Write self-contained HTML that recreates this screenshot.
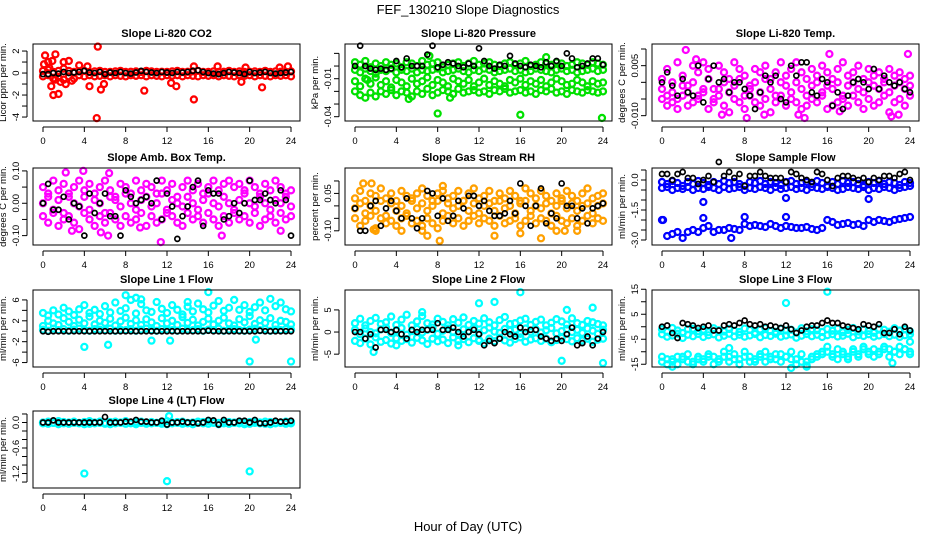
<!DOCTYPE html>
<html><head><meta charset="utf-8"><style>
body{margin:0;background:#fff;}
svg{display:block;font-family:"Liberation Sans",sans-serif;}
.t{font-size:11px;font-weight:bold;}
.tk{font-size:9.5px;}
</style></head><body>
<svg id="c" width="936" height="540" viewBox="0 0 936 540">
<text x="468" y="14" text-anchor="middle" font-size="13">FEF_130210  Slope Diagnostics</text>
<text x="468" y="531" text-anchor="middle" font-size="13">Hour of Day (UTC)</text>
</svg>
<script>
const hours=[0,0.5,1,1.5,2,2.5,3,3.5,4,4.5,5,5.5,6,6.5,7,7.5,8,8.5,9,9.5,10,10.5,11,11.5,12,12.5,13,13.5,14,14.5,15,15.5,16,16.5,17,17.5,18,18.5,19,19.5,20,20.5,21,21.5,22,22.5,23,23.5,24];
const xTicks=[0,4,8,12,16,20,24];
// P1 CO2
const co2A=[0.2,0.3,0.1,0.2,0.4,0.2,0.1,0.15,0.2,0.1,0.15,0.2,0.1,0.1,0.15,0.2,0.1,0.12,0.15,0.1,0.2,0.15,0.1,0.12,0.1,0.15,0.2,0.1,0.12,0.15,0.2,0.1,0.1,0.15,0.1,0.12,0.2,0.1,0.15,0.1,0.12,0.15,0.1,0.2,0.1,0.15,0.12,0.1,0.15];
const co2B=[-0.3,-0.2,-0.5,-0.4,-0.6,-0.3,-0.5,-0.2,-0.3,-0.2,-0.3,-0.25,-0.2,-0.3,-0.2,-0.25,-0.3,-0.2,-0.25,-0.2,-0.3,-0.2,-0.25,-0.3,-0.2,-0.25,-0.2,-0.3,-0.2,-0.25,-0.3,-0.2,-0.25,-0.2,-0.3,-0.2,-0.25,-0.3,-0.2,-0.25,-0.2,-0.3,-0.2,-0.25,-0.3,-0.2,-0.25,-0.2,-0.3];
const co2OutH=[0.2,0.1,0.5,0.9,1.2,1.0,1.5,0.8,2.0,2.5,2.2,3.5,4.3,4.5,5.3,5.2,5.6,5.9,9.8,12.4,12.9,14.6,14.6,16.9,19.6,19.2,21.2,22.9,23.7,1.7,1.2,2.8,0.6];
const co2OutV=[1.6,0.8,1.0,1.1,1.7,-2.0,-1.9,-1.2,1.0,1.1,-1.0,0.7,0.6,-1.2,2.4,-4.1,-1.5,-1.0,-1.6,-0.9,-1.2,-2.4,0.6,0.6,0.5,-0.8,-1.3,0.5,0.6,-0.8,-0.6,-0.7,0.5];
const co2K=[-0.1,-0.1,0,-0.05,0.1,0,0.05,0.1,0.2,0.05,0,0.1,-0.1,0.05,0,0.1,0,-0.05,0.05,0.2,0.1,0.05,0,0.1,0.05,0,0.1,0.05,0.1,0.2,0.25,0.1,0,-0.05,-0.1,0,0.1,0.05,0,-0.1,0.1,0,0.05,0.1,0,-0.05,0,0.05,0.1];
// P2 Pressure
const prA=[0.003,0.001,0.004,-0.001,0.002,0.0,0.003,0.001,0.002,-0.001,0.003,0.002,0.0,0.004,0.001,0.002,0.003,-0.001,0.001,0.002,0.003,0.0,0.002,0.004,0.001,0.002,0.003,0.001,0.0,0.002,0.003,0.001,0.002,0.004,0.0,0.001,0.003,0.002,0.001,0.003,0.002,0.0,0.001,0.003,0.002,0.001,0.003,0.002,0.001];
const prB=[-0.003,-0.005,-0.002,-0.004,-0.006,-0.003,-0.004,-0.002,-0.005,-0.003,-0.004,-0.002,-0.005,-0.003,-0.004,-0.003,-0.002,-0.005,-0.004,-0.003,-0.002,-0.004,-0.005,-0.003,-0.004,-0.002,-0.003,-0.005,-0.004,-0.003,-0.002,-0.004,-0.003,-0.005,-0.004,-0.002,-0.003,-0.004,-0.005,-0.003,-0.002,-0.004,-0.003,-0.005,-0.004,-0.003,-0.002,-0.004,-0.003];
const prC=[-0.02,-0.023,-0.025,-0.021,-0.024,-0.02,-0.022,-0.019,-0.023,-0.02,-0.021,-0.024,-0.02,-0.022,-0.018,-0.023,-0.021,-0.019,-0.02,-0.022,-0.018,-0.021,-0.02,-0.019,-0.021,-0.02,-0.022,-0.019,-0.02,-0.018,-0.021,-0.02,-0.019,-0.021,-0.02,-0.022,-0.019,-0.02,-0.018,-0.021,-0.02,-0.022,-0.019,-0.02,-0.021,-0.019,-0.02,-0.021,-0.02];
const prD=[-0.012,-0.016,-0.01,-0.014,-0.009,-0.015,-0.012,-0.017,-0.011,-0.013,-0.016,-0.01,-0.014,-0.012,-0.009,-0.015,-0.011,-0.013,-0.016,-0.01,-0.012,-0.014,-0.011,-0.016,-0.013,-0.01,-0.015,-0.012,-0.014,-0.016,-0.011,-0.013,-0.01,-0.015,-0.012,-0.014,-0.011,-0.016,-0.013,-0.01,-0.012,-0.015,-0.014,-0.011,-0.013,-0.016,-0.012,-0.014,-0.013];
const prOutH=[8,16,23.9,5.2,9.2,7.2,18.5,1.2];
const prOutV=[-0.0375,-0.0385,-0.041,-0.026,-0.025,0.008,0.007,-0.011];
const prK=[0,0.016,0.0,-0.002,-0.003,-0.002,-0.003,-0.002,0.004,-0.001,0.006,0.0,0.0,0.0,0.009,0.016,-0.001,0.001,0.003,0.002,0.0,-0.001,0.002,0.0,0.014,0.004,0.0,-0.002,0.001,0.0,0.008,0.002,0.0,-0.001,0.001,0.0,-0.001,0.003,0.0,0.004,0.0,0.010,0.006,-0.001,0.0,0.002,0.006,0.006,0.001];
// P3 Li-820 Temp
const tpA=[0.001,0.004,-0.003,0.006,0.002,-0.001,0.005,0.003,0.006,0.004,-0.002,0.005,0.003,0.001,0.006,0.004,0.002,-0.001,0.004,0.003,0.005,0.001,0.003,0.006,0.002,0.004,0.006,0.003,0.001,0.004,0.002,0.005,0.003,0.001,0.004,0.006,0.002,0.003,0.005,0.001,0.004,0.002,0.003,0.001,0.004,0.002,0.003,0.001,0.002];
const tpB=[-0.002,-0.004,0.0,-0.005,-0.001,-0.003,0.0,-0.004,-0.002,0.001,-0.005,-0.002,0.0,-0.003,-0.001,0.001,-0.004,-0.002,0.0,-0.003,0.001,-0.002,-0.004,0.0,-0.001,-0.003,0.0,-0.002,-0.004,-0.001,0.0,-0.003,-0.001,-0.002,0.0,-0.004,-0.001,0.0,-0.002,-0.003,0.0,-0.001,-0.002,0.0,-0.003,-0.001,0.0,-0.002,-0.001];
const tpC=[-0.005,-0.007,-0.006,-0.008,-0.004,-0.007,-0.006,-0.005,-0.003,-0.008,-0.006,-0.004,-0.007,-0.009,-0.005,-0.006,-0.008,-0.004,-0.006,-0.007,-0.005,-0.009,-0.006,-0.004,-0.007,-0.005,-0.006,-0.008,-0.007,-0.005,-0.006,-0.004,-0.008,-0.007,-0.006,-0.005,-0.007,-0.004,-0.006,-0.008,-0.005,-0.007,-0.006,-0.004,-0.009,-0.006,-0.005,-0.007,-0.004];
const tpOutH=[2.3,5.8,8.2,9.9,13.2,13.8,17.2,22.2,22.9,23.8,3.3,16.2];
const tpOutV=[0.0097,-0.0097,-0.0107,-0.0097,-0.0097,-0.0107,-0.0087,-0.0102,-0.0097,0.0085,0.0069,0.0085];
const tpK=[0,0.003,-0.001,-0.004,0.001,-0.003,-0.004,0.005,-0.006,0.001,0.005,0.0,0.001,-0.003,0.0,0.0,-0.002,-0.004,-0.008,-0.003,0.002,0.0,0.002,-0.005,-0.006,0.005,0.002,0.006,0.006,-0.003,-0.004,0.001,0.0,-0.007,-0.003,-0.008,-0.004,0.0,0.001,0.0,-0.002,0.004,-0.002,0.002,0.0,-0.001,0.0,-0.002,-0.003];
// P4 Amb Box Temp
const abA=[0.05,0.03,0.07,0.04,0.06,0.02,0.05,0.07,0.04,0.06,0.03,0.05,0.07,0.04,0.02,0.06,0.05,0.03,0.07,0.04,0.06,0.05,0.03,0.07,0.04,0.06,0.02,0.05,0.07,0.04,0.06,0.03,0.05,0.07,0.04,0.06,0.07,0.05,0.06,0.04,0.07,0.05,0.03,0.06,0.04,0.07,0.05,0.03,0.04];
const abB=[0.0,0.02,-0.02,0.01,-0.03,0.03,0.0,-0.01,0.02,-0.02,0.01,0.0,-0.03,0.02,0.01,-0.01,0.03,0.0,-0.02,0.01,0.02,-0.01,0.0,0.03,-0.02,0.01,0.0,-0.01,0.02,0.0,-0.02,0.01,0.03,0.0,-0.01,0.02,0.0,-0.02,0.01,0.03,0.0,-0.01,0.02,0.0,-0.02,0.01,0.0,0.02,-0.01];
const abC=[-0.04,-0.06,-0.03,-0.07,-0.05,-0.04,-0.06,-0.08,-0.03,-0.05,-0.07,-0.04,-0.06,-0.03,-0.05,-0.07,-0.04,-0.06,-0.05,-0.03,-0.07,-0.04,-0.06,-0.05,-0.03,-0.04,-0.06,-0.07,-0.03,-0.05,-0.04,-0.06,-0.03,-0.05,-0.07,-0.04,-0.06,-0.03,-0.05,-0.04,-0.06,-0.03,-0.07,-0.05,-0.04,-0.06,-0.03,-0.05,-0.04];
const abOutH=[2.2,3.9,6.4,5.6,6.3,11.4,17.3,9.4,2.8,23.0];
const abOutV=[0.095,0.1,0.093,-0.09,-0.1,-0.12,-0.1,-0.075,-0.085,-0.085];
const abK=[0.0,0.06,-0.02,-0.02,0.02,-0.05,0.0,-0.01,-0.1,0.03,-0.03,0.0,0.03,-0.04,-0.04,-0.1,0.04,0.02,0.0,0.01,0.02,0.0,0.07,-0.05,0.03,-0.01,-0.11,-0.04,-0.01,0.05,0.07,-0.07,0.04,0.03,0.03,-0.05,-0.04,0.0,-0.03,0.0,0.07,0.01,0.01,0.03,0.01,0.0,0.04,0.01,-0.1];
// P5 Gas Stream RH
const rhA=[0.03,0.06,0.02,0.05,0.04,0.07,0.03,0.05,0.02,0.06,0.04,0.03,0.05,0.07,0.04,0.02,0.05,0.06,0.03,0.04,0.06,0.02,0.05,0.07,0.03,0.04,0.06,0.02,0.05,0.03,0.06,0.04,0.02,0.07,0.05,0.03,0.06,0.04,0.02,0.05,0.03,0.06,0.04,0.02,0.05,0.07,0.03,0.04,0.05];
const rhB=[-0.01,0.01,-0.03,0.0,-0.02,0.02,-0.04,0.01,-0.02,0.0,-0.03,0.02,-0.01,0.01,-0.02,0.0,0.02,-0.03,0.01,-0.01,0.0,0.02,-0.02,0.01,-0.03,0.0,0.01,-0.02,0.02,-0.01,0.0,-0.03,0.01,0.02,-0.02,0.0,-0.01,0.01,-0.03,0.0,0.02,-0.01,0.01,-0.02,0.0,0.01,-0.03,0.0,0.01];
const rhC=[-0.05,-0.08,-0.06,-0.04,-0.09,-0.05,-0.07,-0.06,-0.08,-0.05,-0.04,-0.07,-0.06,-0.08,-0.05,-0.07,-0.09,-0.06,-0.04,-0.07,-0.05,-0.08,-0.06,-0.04,-0.07,-0.05,-0.06,-0.08,-0.04,-0.07,-0.06,-0.05,-0.08,-0.06,-0.04,-0.07,-0.05,-0.06,-0.08,-0.04,-0.06,-0.07,-0.05,-0.08,-0.06,-0.04,-0.07,-0.05,-0.06];
const rhOutH=[0.8,1.6,2.0,6.5,7.0,8.2,8.5,13.5,16.0,18.0,19.5,20.3,21.5,1.8,4.5];
const rhOutV=[0.09,0.09,-0.1,-0.1,-0.12,-0.14,0.08,-0.12,-0.11,-0.13,-0.1,-0.1,-0.1,-0.095,-0.1];
const rhK=[-0.01,-0.1,-0.1,0.0,0.02,-0.08,-0.01,0.02,-0.02,-0.05,0.03,-0.05,-0.09,-0.05,0.06,0.05,-0.04,0.03,-0.06,-0.04,0.02,-0.01,0.04,0.04,0.0,0.02,-0.02,-0.04,-0.04,-0.03,0.02,-0.03,0.09,0.0,-0.08,0.0,0.07,-0.07,-0.03,-0.05,0.09,0.0,0.0,-0.05,-0.01,-0.07,-0.01,0.0,0.01];
// P6 Sample Flow
const sfA=[-0.1,-0.2,-0.05,-0.15,-0.3,-0.1,-0.2,-0.05,-0.15,-0.25,-0.1,-0.2,-0.05,-0.15,-0.1,-0.2,-0.3,-0.1,-0.15,-0.05,-0.2,-0.1,-0.15,-0.25,-0.1,-0.05,-0.2,-0.15,-0.1,-0.2,-0.05,-0.15,-0.3,-0.1,-0.2,-0.05,-0.15,-0.1,-0.2,-0.25,-0.1,-0.15,-0.05,-0.2,-0.1,-0.15,-0.25,-0.1,-0.15];
const sfB=[-0.4,-0.35,-0.5,-0.4,-0.45,-0.35,-0.5,-0.4,-0.45,-0.35,-0.4,-0.5,-0.35,-0.45,-0.4,-0.35,-0.5,-0.4,-0.45,-0.35,-0.4,-0.5,-0.35,-0.45,-0.4,-0.35,-0.45,-0.4,-0.5,-0.35,-0.4,-0.45,-0.35,-0.4,-0.5,-0.45,-0.35,-0.4,-0.45,-0.35,-0.5,-0.4,-0.45,-0.35,-0.4,-0.5,-0.4,-0.35,-0.3];
const sfC=[-2.0,-2.8,-2.7,-2.6,-2.9,-2.6,-2.5,-2.6,-2.4,-2.3,-2.6,-2.5,-2.5,-2.4,-2.45,-2.5,-2.2,-2.3,-2.25,-2.3,-2.35,-2.2,-2.3,-2.4,-2.3,-2.35,-2.4,-2.4,-2.35,-2.45,-2.5,-2.4,-2.0,-2.1,-2.25,-2.2,-2.15,-2.25,-2.2,-2.3,-2.0,-2.1,-2.0,-2.05,-2.1,-2.0,-1.95,-1.9,-1.85];
const sfOutH=[4.0,12.0,20.0,4.0,8.0,12.0,0.1,6.7];
const sfOutV=[-1.1,-0.9,-0.95,-1.9,-1.85,-1.85,-2.0,-2.9];
const sfK=[0.3,0.3,0.0,0.3,0.4,0.1,0.1,-0.2,0.0,0.2,-0.1,0.9,0.2,0.4,0.1,0.3,-0.3,0.2,0.2,0.4,0.2,0.1,0.1,0.1,-0.1,0.4,0.3,0.1,0.0,-0.1,0.4,0.3,0.0,-0.3,0.1,0.2,0.2,0.1,0.0,0.1,-0.1,0.1,0.0,0.2,0.2,0.1,0.3,0.4,0.0];
// P7 Line 1
const l1A=[0.3,0.1,0.5,0.2,0.4,0.1,0.3,0.5,0.2,0.1,0.4,0.3,0.2,0.5,0.1,0.3,0.2,0.4,0.1,0.3,0.5,0.2,0.1,0.4,0.3,0.2,0.1,0.5,0.3,0.2,0.4,0.1,0.3,0.2,0.5,0.1,0.3,0.4,0.2,0.1,0.3,0.5,0.2,0.4,0.1,0.3,0.2,0.4,0.3];
const l1B=[1.0,2.0,1.5,1.2,2.5,1.8,1.0,2.2,1.5,2.8,1.3,2.0,1.6,2.4,1.1,1.9,2.6,1.4,2.1,1.2,2.3,1.7,1.0,2.5,1.5,2.0,1.2,2.7,1.6,2.2,1.1,1.8,2.4,1.3,2.0,2.6,1.5,1.1,2.3,1.7,2.9,1.4,2.1,1.6,2.5,1.2,2.0,1.8,1.3];
const l1C=[3.5,3.0,4.0,3.2,4.5,3.8,3.1,4.2,5.0,3.5,4.1,3.3,4.8,3.6,5.5,3.9,4.4,6.0,3.4,5.2,4.0,3.7,5.6,4.3,3.5,5.0,4.1,3.2,4.7,3.8,5.3,4.2,3.6,4.9,5.8,3.9,4.5,6.0,4.1,5.0,3.7,4.6,5.5,4.0,6.2,4.8,5.5,4.2,3.8];
const l1OutH=[4.0,6.3,8.0,9.0,9.5,14.0,16.0,20.0,24.0,10.5,12.3,20.6];
const l1OutV=[-3.0,-2.6,6.9,6.4,6.1,5.6,7.5,-5.8,-5.8,-1.8,-1.8,-1.6];
const l1K=[0,-0.1,0,0,0,0,0,0,0,0,0,0,0,0,0,0,0,0,0,0,0,0,0,0,0,0,0,0,0,0,0,0,0.1,0,0,0,0,0,0,0,0,0,0.1,0,0,0,0,0,0];
// P8 Line 2
const l2A=[2.0,3.0,1.5,2.5,3.2,1.8,2.2,3.5,1.6,2.8,3.9,1.5,2.4,3.6,2.0,1.7,3.0,2.3,1.5,2.9,2.1,3.3,1.6,2.5,1.9,3.1,2.2,1.5,2.7,3.4,1.8,2.0,2.6,3.0,1.6,2.3,2.8,1.5,2.1,2.9,2.4,1.7,3.1,2.0,1.6,2.5,2.2,1.8,1.5];
const l2B=[0.5,-0.5,0.8,0.0,-0.3,0.6,1.0,-0.2,0.4,0.9,-0.6,0.2,0.7,-0.1,0.5,1.0,-0.4,0.3,0.8,0.0,-0.5,0.6,0.2,0.9,-0.3,0.4,1.0,0.1,-0.2,0.7,0.3,0.5,-0.4,0.8,0.0,0.6,-0.1,0.4,0.9,-0.3,0.2,0.7,0.0,0.5,-0.2,0.8,0.3,-0.4,0.5];
const l2C=[-2.0,-2.5,-1.5,-2.8,-1.2,-2.2,-1.8,-2.6,-1.4,-2.0,-1.6,-2.4,-1.3,-1.9,-2.7,-1.5,-2.1,-1.7,-2.5,-1.2,-2.0,-1.6,-2.3,-1.4,-1.8,-2.6,-1.5,-2.1,-1.3,-1.9,-2.4,-1.6,-1.2,-2.2,-1.7,-1.4,-2.0,-1.5,-2.3,-1.8,-1.3,-1.6,-2.1,-1.4,-1.9,-1.5,-2.2,-1.7,-1.5];
const l2OutH=[1.8,4.0,6.5,12.0,13.5,16.0,20.0,24.0,23.0,10.0,12.0,20.5];
const l2OutV=[-4.5,-3.0,4.5,6.5,6.8,9.0,-6.5,-7.0,5.5,-3.0,-2.0,5.0];
const l2K=[0,0,-1.5,-0.5,-3.5,0.5,0.5,0.0,0.5,-0.5,-1.5,0.5,0.0,0.5,0.5,0.5,2.0,0.5,0.5,1.0,0.0,-1.0,0.0,0.5,-0.5,-3.0,-2.0,-2.5,-1.5,0.0,-0.5,-1.0,1.0,0.0,0.5,0.5,-1.0,-1.5,-2.0,-1.5,-2.0,-0.5,1.0,-3.0,-2.5,-1.0,-3.0,-1.5,0.0];
// P9 Line 3
const l3A=[-1.0,-2.0,-0.5,-1.5,-2.5,-1.0,-0.8,-1.8,-1.2,-2.2,-0.6,-1.4,-1.9,-0.9,-1.6,-2.1,-0.7,-1.3,-2.4,-1.1,-0.5,-1.7,-2.0,-0.8,-1.5,-1.2,-2.3,-0.6,-1.8,-1.0,-1.4,-2.1,-0.9,-1.6,-0.7,-2.2,-1.3,-0.5,-1.9,-1.1,-1.7,-2.4,-0.8,-1.2,-2.0,-0.6,-1.5,-1.0,-1.8];
const l3B=[-3.0,-4.0,-3.5,-2.8,-4.5,-3.2,-3.8,-2.9,-4.1,-3.4,-3.0,-4.3,-3.6,-2.8,-3.9,-3.2,-4.0,-3.5,-2.9,-4.2,-3.3,-3.7,-2.8,-4.0,-3.5,-3.1,-4.4,-3.6,-2.9,-3.8,-3.2,-4.1,-3.4,-3.0,-3.9,-3.6,-2.8,-4.2,-3.3,-3.7,-3.0,-4.0,-3.5,-2.9,-3.8,-3.2,-4.1,-3.4,-3.0];
const l3C=[-12,-13,-14,-12,-13,-11,-14,-12,-13,-11,-12,-14,-10,-12,-11,-13,-10,-12,-14,-11,-10,-12,-13,-11,-12,-10,-13,-11,-14,-12,-11,-10,-8,-11,-9,-10,-12,-9,-11,-8,-10,-9,-11,-8,-9,-10,-8,-9,-11];
const l3D=[-14,-15,-13,-15,-12,-14,-15,-13,-14,-12,-15,-13,-12,-14,-13,-15,-12,-14,-13,-12,-14,-13,-11,-14,-12,-13,-15,-14,-16,-13,-12,-11,-10,-12,-13,-11,-13,-10,-12,-9,-11,-12,-10,-9,-12,-10,-11,-9,-10];
const l3OutH=[12.0,16.0,12.5,6.5,22.3,24.0,1.0,14.0];
const l3OutV=[9.5,14.0,-16.5,-8.5,-14.5,-6.0,-16,-15.5];
const l3K=[0,0.5,-2.5,-4.5,1.5,1.0,0.5,-0.5,0.0,0.5,-1.5,-1.5,0.5,1.0,0.5,1.5,2.5,1.0,0.5,1.0,0.0,0.5,0.0,-0.5,0.5,-1.0,-2.5,-1.5,0.0,0.5,0.5,1.5,2.5,1.5,1.5,0.5,0.0,-0.5,-1.0,1.0,0.5,0.0,1.0,-2.5,-2.5,-1.0,-3.0,0.0,-1.5];
// P10 Line 4
const l4A=[0.0,0.02,-0.01,0.03,0.01,0.0,0.02,-0.01,0.01,0.03,0.0,0.02,-0.01,0.01,0.02,0.0,0.03,-0.01,0.01,0.02,0.0,0.01,-0.01,0.02,0.03,0.0,0.01,0.02,-0.01,0.0,0.02,0.01,0.03,0.0,-0.01,0.02,0.01,0.0,0.02,-0.01,0.01,0.03,0.0,0.02,0.01,-0.01,0.0,0.02,0.01];
const l4B=[-0.02,-0.03,-0.01,-0.04,-0.02,-0.03,-0.01,-0.02,-0.04,-0.03,-0.02,-0.01,-0.03,-0.04,-0.02,-0.01,-0.03,-0.02,-0.04,-0.01,-0.03,-0.02,-0.01,-0.03,-0.04,-0.02,-0.01,-0.03,-0.02,-0.04,-0.01,-0.02,-0.03,-0.01,-0.04,-0.02,-0.03,-0.01,-0.02,-0.04,-0.03,-0.01,-0.02,-0.03,-0.04,-0.02,-0.01,-0.03,-0.02];
const l4OutH=[4.0,12.0,20.0,12.2];
const l4OutV=[-1.2,-1.38,-1.15,0.15];
const l4K=[0,0.0,0.05,0.0,0.0,0.0,0.0,0.0,0.0,0.0,0.0,0.0,0.13,0.0,0.0,0.0,0.02,0.02,0.06,0.02,0.02,0.0,0.0,0.04,-0.05,0.0,0.0,0.02,0.0,0.0,-0.02,0.0,0.06,0.05,-0.05,0.06,0.0,0.0,0.04,0.04,0.0,0.06,-0.02,-0.02,0.0,0.04,0.02,0.02,0.04];

const NS='http://www.w3.org/2000/svg';
const svg=document.getElementById('c');
function mk(tag,attrs,parent){const e=document.createElementNS(NS,tag);for(const k in attrs)e.setAttribute(k,attrs[k]);(parent||svg).appendChild(e);return e;}
const colLeft=[33,345,652], rowTop=[44,168,290,411], W=267, H=77;
function panel(cfg){
  const L=colLeft[cfg.col], T=rowTop[cfg.row];
  const g=mk('g',{});
  
  
  const xs=h=>L+10+h*(248/24);
  const ys=v=>T+(cfg.top-v)/(cfg.top-cfg.bot)*H;
  const tt=mk('text',{x:L+W/2,y:T-7,'text-anchor':'middle',class:'t'},g);tt.textContent=cfg.title;
  
  
  const xa=mk('g',{},g);
  
  
  mk('line',{x1:xs(0),x2:xs(24),y1:T+H+6,y2:T+H+6,stroke:'#000'},xa);
  xTicks.forEach(t=>{mk('line',{x1:xs(t),x2:xs(t),y1:T+H+6,y2:T+H+11,stroke:'#000'},xa);
    const l=mk('text',{x:xs(t),y:T+H+23,'text-anchor':'middle',class:'tk'},xa);l.textContent=t;});
  const ya=mk('g',{},g);
  
  
  mk('line',{x1:L-6,x2:L-6,y1:ys(cfg.yt[0]),y2:ys(cfg.yt[cfg.yt.length-1]),stroke:'#000'},ya);
  cfg.yt.forEach(t=>{mk('line',{x1:L-11,x2:L-6,y1:ys(t),y2:ys(t),stroke:'#000'},ya);});
  cfg.yl.forEach((s,i)=>{const y=ys(cfg.ylv[i]);const l=mk('text',{x:L-14,y:y,'text-anchor':'middle',class:'tk',transform:`rotate(-90 ${L-14} ${y})`},ya);l.textContent=s;});
  const yt=mk('text',{x:L-27,y:T+H/2,'text-anchor':'middle',class:'tk',transform:`rotate(-90 ${L-27} ${T+H/2})`},g);yt.textContent=cfg.ylab;
  
  
  cfg.series.forEach(s=>{
    const sg=mk('g',{},g);
    
    
    const blk=s.c==='#000';
    s.v.forEach((v,i)=>{const c=mk('circle',{cx:xs(s.h[i]),cy:ys(v),r:blk?2.5:3,fill:'none',stroke:s.c,'stroke-width':blk?1.7:2.3},sg);
      
      });
  });
  mk('rect',{x:L,y:T,width:W,height:H,fill:'none',stroke:'#000','stroke-width':1},g);
}
const K='#000';
panel({name:'panel-li820-co2',col:0,row:0,title:'Slope Li-820 CO2',ylab:'Licor ppm per min.',top:2.64,bot:-4.36,yt:[-4,-3,-2,-1,0,1,2],yl:['-4','-2','0','2'],ylv:[-4,-2,0,2],
 series:[{n:'co2-band-high',h:hours,v:co2A,c:'red'},{n:'co2-band-low',h:hours,v:co2B,c:'red'},{n:'co2-outliers',h:co2OutH,v:co2OutV,c:'red'},{n:'co2-hourly',h:hours,v:co2K,c:K}]});
panel({name:'panel-li820-pressure',col:1,row:0,title:'Slope Li-820 Pressure',ylab:'kPa per min.',top:0.0174,bot:-0.0434,yt:[-0.04,-0.03,-0.02,-0.01,0,0.01],yl:['-0.04','-0.01'],ylv:[-0.04,-0.01],
 series:[{n:'pressure-band-a',h:hours,v:prA,c:'#00e000'},{n:'pressure-band-b',h:hours,v:prB,c:'#00e000'},{n:'pressure-band-c',h:hours,v:prC,c:'#00e000'},{n:'pressure-band-d',h:hours,v:prD,c:'#00e000'},{n:'pressure-outliers',h:prOutH,v:prOutV,c:'#00e000'},{n:'pressure-hourly',h:hours,v:prK,c:K}]});
panel({name:'panel-li820-temp',col:2,row:0,title:'Slope Li-820 Temp.',ylab:'degrees C per min.',top:0.0115,bot:-0.0116,yt:[-0.01,-0.005,0,0.005,0.01],yl:['-0.010','0.005'],ylv:[-0.01,0.005],
 series:[{n:'temp-band-a',h:hours,v:tpA,c:'#ff00ff'},{n:'temp-band-b',h:hours,v:tpB,c:'#ff00ff'},{n:'temp-band-c',h:hours,v:tpC,c:'#ff00ff'},{n:'temp-outliers',h:tpOutH,v:tpOutV,c:'#ff00ff'},{n:'temp-hourly',h:hours,v:tpK,c:K}]});
panel({name:'panel-amb-box-temp',col:0,row:1,title:'Slope Amb. Box Temp.',ylab:'degrees C per min.',top:0.109,bot:-0.129,yt:[-0.1,-0.05,0,0.05,0.1],yl:['-0.10','0.00','0.10'],ylv:[-0.1,0,0.1],
 series:[{n:'amb-band-a',h:hours,v:abA,c:'#ff00ff'},{n:'amb-band-b',h:hours,v:abB,c:'#ff00ff'},{n:'amb-band-c',h:hours,v:abC,c:'#ff00ff'},{n:'amb-outliers',h:abOutH,v:abOutV,c:'#ff00ff'},{n:'amb-hourly',h:hours,v:abK,c:K}]});
panel({name:'panel-gas-stream-rh',col:1,row:1,title:'Slope Gas Stream RH',ylab:'percent per min.',top:0.152,bot:-0.157,yt:[-0.1,-0.05,0,0.05,0.1],yl:['-0.10','0.05'],ylv:[-0.1,0.05],
 series:[{n:'rh-band-a',h:hours,v:rhA,c:'#ffa000'},{n:'rh-band-b',h:hours,v:rhB,c:'#ffa000'},{n:'rh-band-c',h:hours,v:rhC,c:'#ffa000'},{n:'rh-outliers',h:rhOutH,v:rhOutV,c:'#ffa000'},{n:'rh-hourly',h:hours,v:rhK,c:K}]});
panel({name:'panel-sample-flow',col:2,row:1,title:'Slope Sample Flow',ylab:'ml/min per min.',top:0.6,bot:-3.25,yt:[-3,-2.5,-2,-1.5,-1,-0.5,0,0.5],yl:['-3.0','-1.5','0.0'],ylv:[-3,-1.5,0],
 series:[{n:'sample-band-a',h:hours,v:sfA,c:'#0000ff'},{n:'sample-band-b',h:hours,v:sfB,c:'#0000ff'},{n:'sample-band-low',h:hours,v:sfC,c:'#0000ff'},{n:'sample-outliers',h:sfOutH,v:sfOutV,c:'#0000ff'},{n:'sample-hourly',h:hours,v:sfK,c:K}]});
panel({name:'panel-line1-flow',col:0,row:2,title:'Slope Line 1 Flow',ylab:'ml/min per min.',top:7.9,bot:-6.85,yt:[-6,-4,-2,0,2,4,6],yl:['-6','-2','2','6'],ylv:[-6,-2,2,6],
 series:[{n:'line1-band-a',h:hours,v:l1A,c:'#00ffff'},{n:'line1-band-b',h:hours,v:l1B,c:'#00ffff'},{n:'line1-band-c',h:hours,v:l1C,c:'#00ffff'},{n:'line1-outliers',h:l1OutH,v:l1OutV,c:'#00ffff'},{n:'line1-hourly',h:hours,v:l1K,c:K}]});
panel({name:'panel-line2-flow',col:1,row:2,title:'Slope Line 2 Flow',ylab:'ml/min per min.',top:9.5,bot:-7.9,yt:[-5,0,5],yl:['-5','0','5'],ylv:[-5,0,5],
 series:[{n:'line2-band-a',h:hours,v:l2A,c:'#00ffff'},{n:'line2-band-b',h:hours,v:l2B,c:'#00ffff'},{n:'line2-band-c',h:hours,v:l2C,c:'#00ffff'},{n:'line2-outliers',h:l2OutH,v:l2OutV,c:'#00ffff'},{n:'line2-hourly',h:hours,v:l2K,c:K}]});
panel({name:'panel-line3-flow',col:2,row:2,title:'Slope Line 3 Flow',ylab:'ml/min per min.',top:14.7,bot:-16.1,yt:[-15,-10,-5,0,5,10,15],yl:['-15','-5','5','15'],ylv:[-15,-5,5,15],
 series:[{n:'line3-band-a',h:hours,v:l3A,c:'#00ffff'},{n:'line3-band-b',h:hours,v:l3B,c:'#00ffff'},{n:'line3-band-c',h:hours,v:l3C,c:'#00ffff'},{n:'line3-band-d',h:hours,v:l3D,c:'#00ffff'},{n:'line3-outliers',h:l3OutH,v:l3OutV,c:'#00ffff'},{n:'line3-hourly',h:hours,v:l3K,c:K}]});
panel({name:'panel-line4-flow',col:0,row:3,title:'Slope Line 4 (LT) Flow',ylab:'ml/min per min.',top:0.27,bot:-1.54,yt:[-1.4,-1.2,-1,-0.8,-0.6,-0.4,-0.2,0,0.2],yl:['-1.2','-0.6','0.0'],ylv:[-1.2,-0.6,0],
 series:[{n:'line4-band-a',h:hours,v:l4A,c:'#00ffff'},{n:'line4-band-b',h:hours,v:l4B,c:'#00ffff'},{n:'line4-outliers',h:l4OutH,v:l4OutV,c:'#00ffff'},{n:'line4-hourly',h:hours,v:l4K,c:K}]});
</script>
</body></html>
